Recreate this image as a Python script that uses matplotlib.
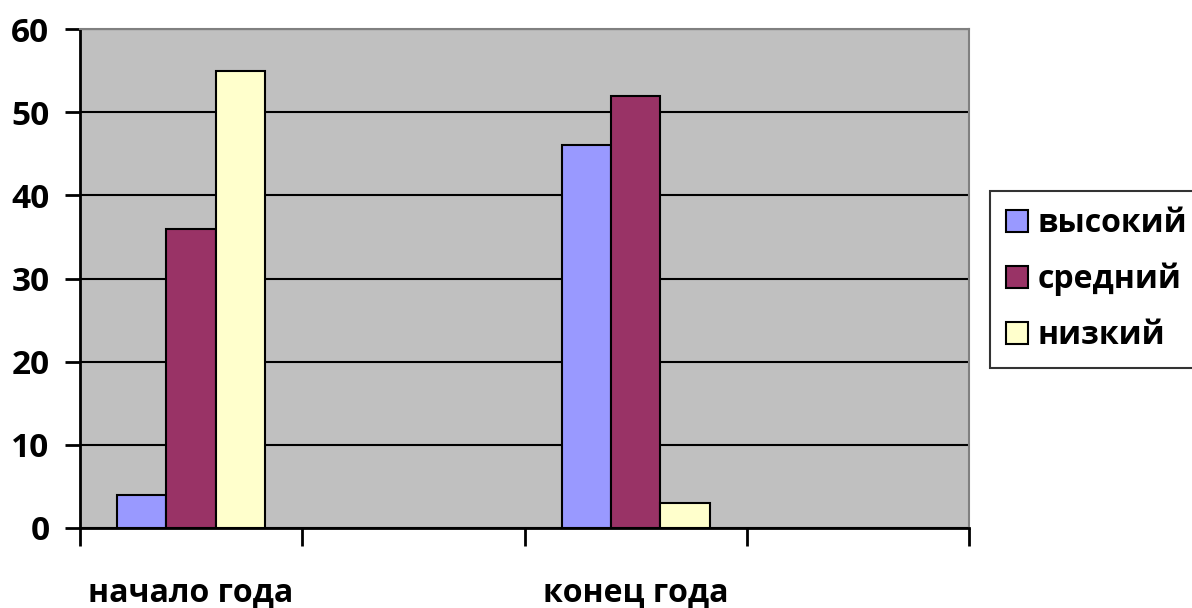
import matplotlib
matplotlib.use('Agg')
import matplotlib.pyplot as plt
from matplotlib.patches import Patch
import numpy as np

plt.rcParams.update({
    'font.family': ['Open Sans', 'DejaVu Sans'],
    'font.weight': 'bold',
})

# ── Dados ─────────────────────────────────────────────────────────────────────
categories = ['начало года', '', 'конец года', '']
series = ['высокий', 'средний', 'низкий']
vysokiy = [4, np.nan, 46, np.nan]
sredniy = [36, np.nan, 52, np.nan]
nizkiy = [55, np.nan, 3, np.nan]
yticks = [0, 10, 20, 30, 40, 50, 60]

colors = ['#9999FF', '#993366', '#FFFFCC']

fig = plt.figure(figsize=(11.92, 6.08), dpi=100)
ax = fig.add_axes([80 / 1192, 1 - 528 / 608, 889 / 1192, 499 / 608])
ax.set_facecolor('#C0C0C0')

x = np.arange(len(categories)) + 0.5
w = 0.222
for i, (vals, cor, nome) in enumerate(zip([vysokiy, sredniy, nizkiy], colors, series)):
    ax.bar(x + (i - 1) * w, vals, w, color=cor, edgecolor='black',
           linewidth=1.5, label=nome, zorder=3)

ax.set_xlim(0, len(categories))
ax.set_ylim(0, 60)
ax.set_yticks(yticks)
ax.yaxis.grid(True, color='black', linewidth=1.5, zorder=1)
ax.set_axisbelow(True)

ax.set_xticks(np.arange(len(categories) + 1))
ax.set_xticklabels([])
ax.set_xticks(x, minor=True)
ax.set_xticklabels(categories, minor=True)
ax.tick_params(axis='x', which='minor', length=0, pad=35, labelsize=23)
ax.tick_params(axis='x', which='major', length=13, width=2, direction='out')
ax.tick_params(axis='y', length=11, width=2, direction='out', pad=11, labelsize=24)

for side in ['top', 'right']:
    ax.spines[side].set_color('#808080')
    ax.spines[side].set_linewidth(1.5)
for side in ['left', 'bottom']:
    ax.spines[side].set_color('black')
    ax.spines[side].set_linewidth(2)

handles = [Patch(facecolor=c, edgecolor='black', linewidth=1.5, label=s)
           for c, s in zip(colors, series)]
leg = fig.legend(handles=handles, loc='upper left',
                 bbox_to_anchor=(990 / 1192, 1 - 191 / 608),
                 borderaxespad=0, fontsize=23, frameon=True, fancybox=False,
                 edgecolor='black', handlelength=0.7, handleheight=0.7,
                 handletextpad=0.3, labelspacing=0.72, borderpad=0.5)
leg.get_frame().set_linewidth(1.5)

fig.savefig('out.png', dpi=100)
